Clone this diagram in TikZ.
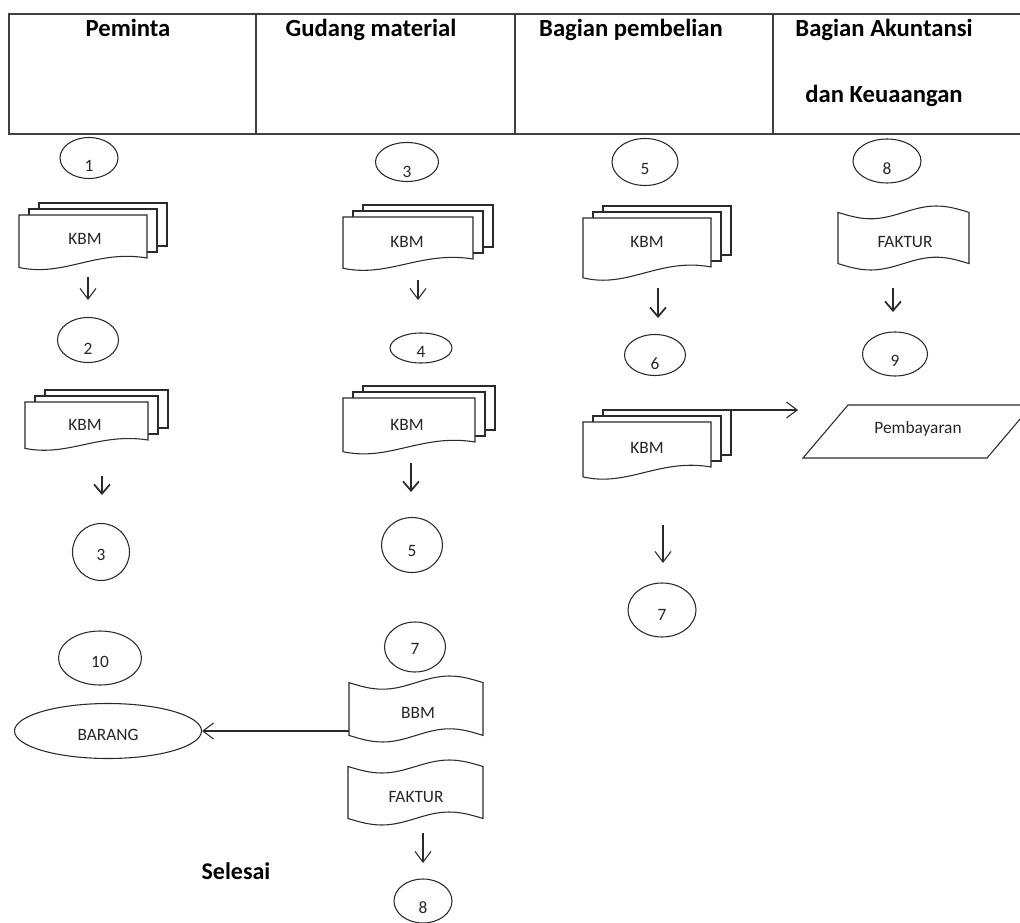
\documentclass[tikz,border=0pt]{standalone}
\usepackage{fontspec}
\setmainfont{Carlito}
\usetikzlibrary{arrows.meta,shapes.geometric}
\definecolor{ln}{HTML}{2A2A2A}
\definecolor{tx}{HTML}{262626}
\newcommand\lownum[2]{\raisebox{-#2pt}[0pt][0pt]{#1}}
% multi-document: name, x0, y0, w, h, text, baseline-x, baseline-y
\newcommand\mdoc[8]{%
  \draw[shp] (#2+20,#3-12) rectangle ++(#4,#5);
  \draw[shp] (#2+10,#3-6) rectangle ++(#4,#5);
  \draw[shp] (#2,#3) -- (#2+#4,#3) -- (#2+#4,#3+#5)
     .. controls (#2+0.6*#4,#3+0.8*#5) and (#2+0.35*#4,#3+1.45*#5) .. (#2,#3+1.22*#5) -- cycle;
  \coordinate (#1-c) at (#2+#4+20,#3-12);
  \node[txt,anchor=base] (#1) at (#7,#8) {#6};
}
% punched tape: name, x0, y0, w, h, text, baseline-x, baseline-y
\newcommand\tapedoc[8]{%
  \pgfmathsetmacro\ta{0.1*#5}
  \draw[shp] (#2,#3+\ta) sin (#2+0.25*#4,#3+2*\ta) cos (#2+0.5*#4,#3+\ta)
     sin (#2+0.75*#4,#3) cos (#2+#4,#3+\ta)
     -- (#2+#4,#3+#5-\ta) sin (#2+0.75*#4,#3+#5-2*\ta) cos (#2+0.5*#4,#3+#5-\ta)
     sin (#2+0.25*#4,#3+#5) cos (#2,#3+#5-\ta) -- cycle;
  \coordinate (#1-l) at (#2,#3+0.5*#5);
  \node[txt,anchor=base] (#1) at (#7,#8) {#6};
}
\begin{document}
\begin{tikzpicture}[x=0.75pt,y=-0.75pt,
  shp/.style={draw=ln, line width=0.8pt, fill=white},
  txt/.style={inner sep=0pt, text=tx, font=\fontsize{13}{15}\selectfont},
  hd/.style={inner sep=0pt, text=black, font=\fontsize{18.5}{22}\selectfont\bfseries, anchor=base},
  hline/.style={draw=black!75, line width=1.2pt},
  ell/.style 2 args={ellipse, draw=ln, line width=0.8pt, fill=white,
     minimum width=#1*0.75pt, minimum height=#2*0.75pt, inner sep=0pt,
     text=tx, font=\fontsize{13}{15}\selectfont},
  arr/.style={draw=ln, line width=0.8pt, -{Straight Barb[length=8pt,width=12pt,line width=0.8pt]}},
  barr/.style={draw=ln, line width=1.3pt, -{Straight Barb[length=7pt,width=12pt,line width=1.3pt]}}
]
\useasboundingbox (0,0) rectangle (1020,923);

% header
\draw[hline] (1020,14) -- (9,14) -- (9,134) -- (1020,134);
\draw[hline] (256,14) -- (256,134);
\draw[hline] (515,14) -- (515,134);
\draw[hline] (773,14) -- (773,134);
\node[hd] (h1) at (128,37) {Peminta};
\node[hd] (h2) at (371,37) {Gudang material};
\node[hd] (h3) at (631,37) {Bagian pembelian};
\node[hd] (h4) at (884,37) {Bagian Akuntansi};
\node[hd] (h4b) at (884,103) {dan Keuaangan};

% column 1: Peminta
\node[ell={58}{41}] (p1) at (89,158) {\lownum{1}{10.1}};
\mdoc{pk1}{19}{215}{128}{43}{KBM}{85}{245}
\coordinate (pa1t) at (88,277); \coordinate (pa1b) at (88,300);
\draw[arr] (pa1t) -- (pa1b);
\node[ell={61}{45}] (p2) at (88,340) {\lownum{2}{10.9}};
\mdoc{pk2}{25}{402}{123}{38}{KBM}{85}{430}
\coordinate (pa2t) at (102,476); \coordinate (pa2b) at (102,495);
\draw[barr] (pa2t) -- (pa2b);
\node[ell={57}{57}] (p3) at (101,552) {\lownum{3}{6.4}};
\node[ell={83}{54}] (p10) at (100,658) {\lownum{10}{7.1}};
\node[ell={187}{55}] (barang) at (108,731) {\lownum{BARANG}{7.1}};
\node[inner sep=0pt, anchor=base, font=\fontsize{18}{22}\selectfont\bfseries] (selesai) at (236,879) {Selesai};

% column 2: Gudang material
\node[ell={63}{39}] (g3) at (407,162) {\lownum{3}{11.6}};
\mdoc{gk1}{343}{217}{130}{42}{KBM}{407}{248}
\coordinate (ga1t) at (418,280); \coordinate (ga1b) at (418,300);
\draw[arr] (ga1t) -- (ga1b);
\node[ell={62}{30}] (g4) at (421,348) {\lownum{4}{7.1}};
\mdoc{gk2}{343}{398}{132}{44}{KBM}{407}{430}
\coordinate (ga2t) at (411,463); \coordinate (ga2b) at (411,492);
\draw[barr] (ga2t) -- (ga2b);
\node[ell={61}{55}] (g5) at (412,545) {\lownum{5}{8.6}};
\node[ell={61}{50}] (g7) at (415,647) {\lownum{7}{5.6}};
\tapedoc{bbm}{349}{676}{134}{66}{BBM}{418}{718}
\tapedoc{gfak}{348}{760}{135}{65}{FAKTUR}{416}{802}
\coordinate (ga3t) at (423,833); \coordinate (ga3b) at (423,863);
\draw[arr] (ga3t) -- (ga3b);
\node[ell={58}{44}] (g8) at (423,901) {\lownum{8}{9.35}};
\draw[arr] (bbm-l |- barang.east) -- (barang.east);

% column 3: Bagian pembelian
\node[ell={66}{47}] (b5) at (645,162) {\lownum{5}{9.35}};
\mdoc{bk1}{583}{218}{128}{49}{KBM}{647}{248}
\coordinate (ba1t) at (658,288); \coordinate (ba1b) at (658,318);
\draw[barr] (ba1t) -- (ba1b);
\node[ell={61}{41}] (b6) at (655,355) {\lownum{6}{10.9}};
\mdoc{bk2}{583}{422}{128}{45}{KBM}{647}{453}
\coordinate (bpay) at (798,410);
\draw[arr] (bk2-c) -- (bpay);
\coordinate (ba2t) at (663,525); \coordinate (ba2b) at (663,563);
\draw[arr] (ba2t) -- (ba2b);
\node[ell={68}{54}] (b7) at (662,610) {\lownum{7}{7.85}};

% column 4: Bagian Akuntansi dan Keuangan
\node[ell={68}{44}] (a8) at (887,161) {\lownum{8}{10.1}};
\tapedoc{afak}{838}{206}{131}{64}{FAKTUR}{905}{248}
\coordinate (aa1t) at (893,288); \coordinate (aa1b) at (893,312);
\draw[barr] (aa1t) -- (aa1b);
\node[ell={65}{44}] (a9) at (895,354) {\lownum{9}{9.35}};
\draw[shp] (848,405) -- (1032,405) -- (987,458) -- (803,458) -- cycle;
\node[txt,anchor=base] (pay) at (918,433) {Pembayaran};
\end{tikzpicture}
\end{document}
